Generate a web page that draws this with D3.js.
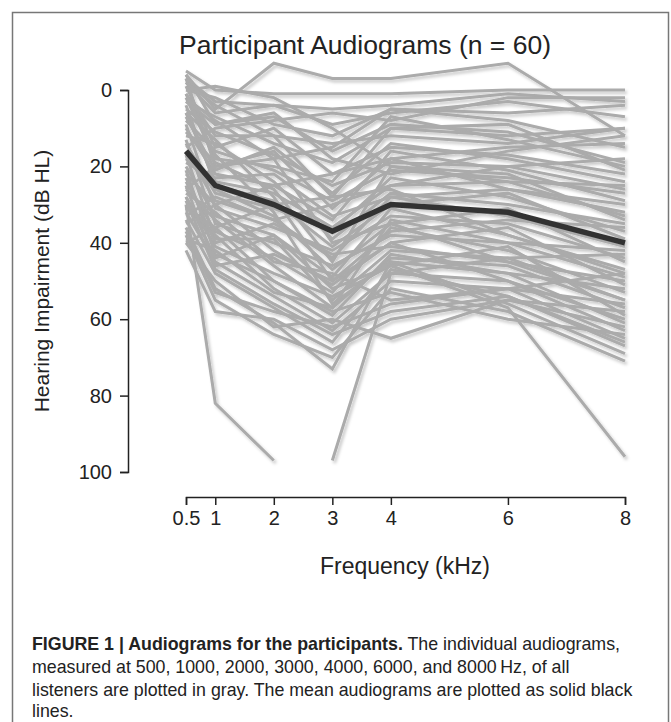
<!DOCTYPE html>
<html>
<head>
<meta charset="utf-8">
<script src="https://cdn.jsdelivr.net/npm/d3@7"></script>
<style>
  body { margin: 0; background: #fff; }
  svg { display: block; }
  .axis text { font-family: "Liberation Sans", Arial, sans-serif; font-size: 20px; fill: #222; }
  .axis path, .axis line { stroke: #222; stroke-width: 1.5; }
</style>
</head>
<body>
<div id="container"><svg id="canvas"></svg></div>
<script>
var canvas_width = 671, canvas_height = 722;

// frequencies (kHz) and tick labels
var freqs = [0.5, 1, 2, 3, 4, 6, 8];
var xTickLabels = ['0.5', '1', '2', '3', '4', '6', '8'];
var yTicks = [0, 20, 40, 60, 80, 100];

// individual audiograms (dB HL) at each frequency
var audiograms = [
  [-4, 5, -7, -3, -3, -7, 12],
  [-5, 0, 1, 1, 1, 0, 0],
  [-3, 3, 4, 5, 4, 1, 3],
  [-2, 6, 4, 9, 6, 3, 7],
  [0, 2, 9, 12, 5, 8, 15],
  [-4, 9, 7, 16, 9, 11, 19],
  [1, 12, 12, 14, 12, 14, 10],
  [3, 7, 14, 19, 10, 9, 21],
  [-1, 15, 10, 22, 15, 17, 22],
  [5, 11, 17, 25, 19, 20, 26],
  [2, 18, 20, 24, 7, 13, 20],
  [8, 16, 21, 29, 21, 23, 27],
  [-3, 20, 16, 31, 18, 26, 30],
  [10, 22, 25, 34, 16, 21, 29],
  [6, 24, 27, 36, 25, 24, 33],
  [12, 14, 24, 39, 27, 30, 35],
  [14, 27, 31, 37, 23, 28, 37],
  [4, 25, 29, 41, 30, 27, 39],
  [16, 29, 34, 44, 28, 33, 41],
  [9, 31, 36, 42, 33, 35, 44],
  [18, 26, 33, 47, 35, 31, 45],
  [20, 33, 38, 49, 31, 38, 47],
  [13, 35, 40, 46, 38, 40, 49],
  [22, 30, 42, 51, 40, 36, 51],
  [24, 37, 44, 53, 36, 42, 53],
  [17, 39, 39, 55, 42, 44, 55],
  [26, 34, 46, 57, 44, 46, 57],
  [28, 41, 48, 54, 46, 41, 59],
  [21, 43, 50, 59, 43, 48, 61],
  [30, 38, 52, 61, 48, 50, 63],
  [32, 45, 54, 63, 50, 52, 65],
  [34, 48, 57, 66, 47, 54, 67],
  [36, 52, 61, 73, 45, 56, 69],
  [38, 55, 64, 70, 52, 58, 71],
  [42, 58, 60, 68, 60, 55, 62],
  [40, 50, 62, 60, 65, 55, 58],
  [30, 82, 97, null, null, null, null],
  [null, null, null, 97, 48, 44, 43],
  [28, 44, 38, 52, 46, 57, 96],
  [35, 30, 25, 22, 18, 15, 14],
  [40, 36, 30, 28, 10, 12, 10],
  [26, 20, 18, 15, 5, 6, 4],
  [33, 28, 34, 30, 25, 20, 18],
  [15, 10, 8, 6, 8, 2, 2],
  [0, -1, 2, 10, 20, 22, 34],
  [-2, 4, 12, 28, 26, 38, 48],
  [2, 8, 18, 40, 35, 45, 55],
  [6, 13, 28, 50, 40, 50, 60],
  [1, 17, 32, 56, 45, 48, 52],
  [11, 19, 26, 45, 20, 24, 25],
  [19, 23, 22, 33, 28, 26, 32],
  [23, 40, 35, 43, 41, 45, 50],
  [27, 32, 45, 48, 55, 52, 56],
  [31, 36, 50, 58, 53, 60, 64],
  [7, 21, 15, 27, 14, 18, 24],
  [29, 47, 56, 64, 58, 54, 66],
  [37, 53, 58, 62, 56, 52, 48],
  [3, 9, 6, 18, 22, 16, 12],
  [25, 46, 43, 50, 37, 34, 36],
  [39, 42, 53, 57, 34, 40, 42]
];

// mean audiogram
var meanAudiogram = [16, 25, 30, 37, 30, 32, 40];

// ************************************************************************************** //
// Setup

var svg = d3.select('#canvas').attr('width', canvas_width).attr('height', canvas_height);

var defs = svg.append('defs');
var shadow = defs.append('filter').attr('id', 'shadow').attr('x', '-10%').attr('y', '-10%').attr('width', '130%').attr('height', '130%');
shadow.append('feDropShadow').attr('dx', 2).attr('dy', 2.5).attr('stdDeviation', 1.6)
  .attr('flood-color', '#000').attr('flood-opacity', 0.22);

// figure frame
svg.append('rect').attr('x', 12.5).attr('y', 12.5).attr('width', 656).attr('height', 740)
  .attr('fill', 'none').attr('stroke', '#777').attr('stroke-width', 1.5);

var xScale = d3.scaleLinear().domain([0.5, 8]).range([186, 625]);
var yScale = d3.scaleLinear().domain([0, 100]).range([90, 472]);

var lineGen = d3.line()
  .defined(d => d.v !== null)
  .x(d => xScale(d.f))
  .y(d => yScale(d.v));

function toPoints(arr){ return arr.map((v, i) => ({ f: freqs[i], v: v })); }

// ************************************************************************************** //
// Lines

var linesG = svg.append('g').attr('filter', 'url(#shadow)');
linesG.selectAll('path.indiv').data(audiograms).enter().append('path')
  .attr('class', 'indiv')
  .attr('d', d => lineGen(toPoints(d)))
  .attr('fill', 'none').attr('stroke', '#ababab').attr('stroke-width', 3)
  .attr('stroke-linejoin', 'miter');

linesG.append('path')
  .attr('d', lineGen(toPoints(meanAudiogram)))
  .attr('fill', 'none').attr('stroke', '#333').attr('stroke-width', 5.5);

// ************************************************************************************** //
// Axes

var xAxis = svg.append('g').attr('class', 'axis').attr('transform', 'translate(0,497)')
  .call(d3.axisBottom(xScale).tickValues(freqs).tickFormat((d, i) => xTickLabels[i]).tickSize(8).tickSizeOuter(8).tickPadding(6));

var yAxis = svg.append('g').attr('class', 'axis').attr('transform', 'translate(128,0)')
  .call(d3.axisLeft(yScale).tickValues(yTicks).tickSize(8).tickSizeOuter(8).tickPadding(8));

svg.append('text').attr('x', 365).attr('y', 54).attr('text-anchor', 'middle')
  .style('font-family', '"Liberation Sans", Arial, sans-serif').style('font-size', '26.5px').style('fill', '#222')
  .text('Participant Audiograms (n = 60)');

svg.append('text').attr('x', 405).attr('y', 574).attr('text-anchor', 'middle')
  .style('font-family', '"Liberation Sans", Arial, sans-serif').style('font-size', '23px').style('fill', '#222')
  .text('Frequency (kHz)');

svg.append('text').attr('transform', 'translate(49,281) rotate(-90)').attr('text-anchor', 'middle')
  .style('font-family', '"Liberation Sans", Arial, sans-serif').style('font-size', '21px').style('fill', '#222')
  .text('Hearing Impairment (dB HL)');

// ************************************************************************************** //
// Caption

var caption = svg.append('text')
  .style('font-family', '"Liberation Sans", Arial, sans-serif').style('font-size', '17.8px').style('fill', '#222');
var l1 = caption.append('tspan').attr('x', 32).attr('y', 650);
l1.append('tspan').style('font-weight', 'bold').text('FIGURE 1 | Audiograms for the participants.');
l1.append('tspan').text(' The individual audiograms,');
caption.append('tspan').attr('x', 32).attr('y', 673).text('measured at 500, 1000, 2000, 3000, 4000, 6000, and 8000\u2009Hz, of all');
caption.append('tspan').attr('x', 32).attr('y', 696).text('listeners are plotted in gray. The mean audiograms are plotted as solid black');
caption.append('tspan').attr('x', 32).attr('y', 717).text('lines.');
</script>
</body>
</html>
